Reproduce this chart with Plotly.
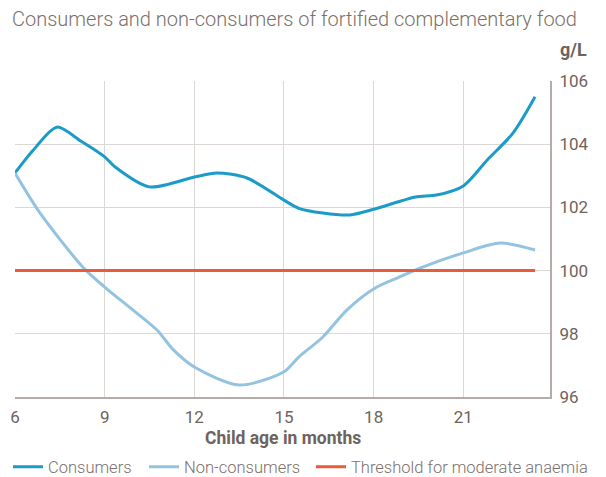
import plotly.graph_objects as go

# Data
cons_age = [6, 6.6, 7.4, 8.2, 9, 9.35, 10.5, 12, 12.75, 13.76, 15, 15.5, 16.3, 17.2, 18.04, 19.4, 20.1, 21, 21.8, 22.66, 23.4]
cons_val = [103.09, 103.8, 104.54, 104.1, 103.6, 103.28, 102.65, 102.96, 103.09, 102.93, 102.23, 101.97, 101.82, 101.76, 101.95, 102.33, 102.39, 102.68, 103.5, 104.35, 105.5]

non_age = [6, 6.84, 8.28, 9, 9.95, 10.75, 11.3, 12, 13.5, 15, 15.5, 16.3, 17.1, 18.05, 18.8, 19.55, 21, 22.24, 23.4]
non_val = [103.09, 101.82, 100.1, 99.48, 98.75, 98.12, 97.49, 96.95, 96.38, 96.8, 97.27, 97.9, 98.75, 99.45, 99.77, 100.08, 100.56, 100.87, 100.65]

thr_age = [6, 23.4]
thr_val = [100, 100]

x_ticks = [6, 9, 12, 15, 18, 21]
y_ticks = [96, 98, 100, 102, 104, 106]

TXT = "#7b706a"
TICK = "#6e635d"
GRID = "#dcd7d4"
AX = "#b3aca8"

# The page body adds an 8px margin, so the figure is 8px smaller on each side
W, H = 598, 469

fig = go.Figure()
fig.add_trace(go.Scatter(x=cons_age, y=cons_val, mode="lines", name="Consumers", legend="legend",
                         line=dict(color="#1b9bc8", width=3, shape="spline", smoothing=0.8)))
fig.add_trace(go.Scatter(x=non_age, y=non_val, mode="lines", name="Non-consumers", legend="legend2",
                         line=dict(color="#93c3e1", width=3, shape="spline", smoothing=0.8)))
fig.add_trace(go.Scatter(x=thr_age, y=thr_val, mode="lines", name="Threshold for moderate anaemia",
                         legend="legend3", line=dict(color="#ea5b3a", width=3)))

leg_common = dict(orientation="h", xref="container", xanchor="left",
                  y=1 - 459 / H, yref="container", yanchor="middle",
                  font=dict(size=16.5, color=TXT, weight=300), itemwidth=30,
                  bgcolor="rgba(0,0,0,0)")

fig.update_layout(
    width=W, height=H,
    margin=dict(l=7, r=56, t=73, b=80, autoexpand=False),
    paper_bgcolor="white", plot_bgcolor="white",
    font=dict(family="Roboto", color=TXT, size=16),
    title=dict(text="Consumers and non-consumers of fortified complementary food",
               x=4 / W, xanchor="left", y=1 - 11 / H, yanchor="middle",
               font=dict(size=20, color=TXT, family="Roboto", weight=300)),
    showlegend=True,
    legend=dict(leg_common, x=0 / W),
    legend2=dict(leg_common, x=136 / W),
    legend3=dict(leg_common, x=303 / W),
    annotations=[
        dict(text="<b>g/L</b>", xref="paper", yref="paper",
             x=1.0, xanchor="left", xshift=8, y=(389 - 42) / 316, yanchor="middle",
             showarrow=False, font=dict(size=18, color=TICK)),
        dict(text="<b>Child age in months</b>", xref="paper", yref="paper",
             x=0.5, xanchor="center", y=0, yshift=-41, yanchor="middle",
             showarrow=False, font=dict(size=17.5, color=TICK)),
    ],
)
fig.update_xaxes(range=[6, 23.9], tickvals=x_ticks, showgrid=True, gridcolor=GRID, gridwidth=1,
                 showline=True, linecolor=AX, linewidth=2, zeroline=False, automargin=False,
                 ticks="", tickfont=dict(size=17, color=TICK), ticklabelstandoff=4)
fig.update_yaxes(range=[96, 106], tickvals=y_ticks, side="right", showgrid=True, gridcolor=GRID,
                 gridwidth=1, showline=True, linecolor=AX, linewidth=2, zeroline=False, automargin=False,
                 ticks="", tickfont=dict(size=17, color=TICK), ticklabelstandoff=4)

fig.write_html("out.html")
